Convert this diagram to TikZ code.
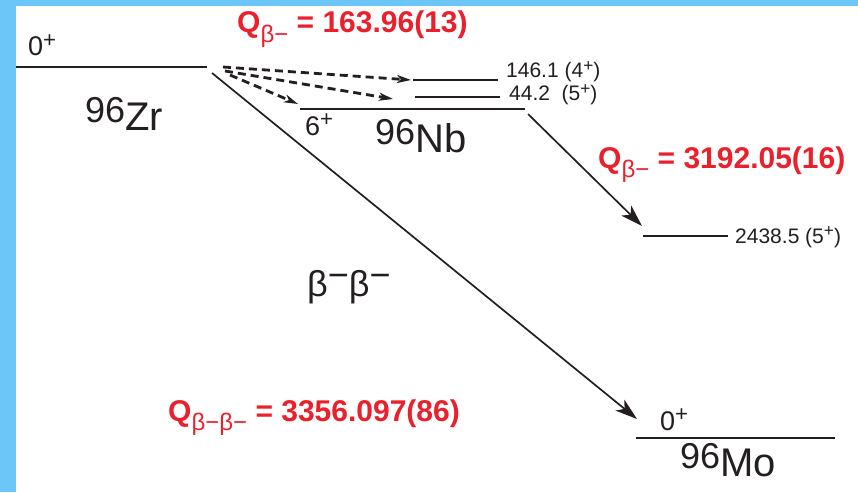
\documentclass[tikz,border=0pt]{standalone}
\usepackage{fontspec}
\setmainfont{Liberation Sans}
\usetikzlibrary{arrows.meta}
\definecolor{qred}{RGB}{234,32,44}
\definecolor{frameblue}{RGB}{108,198,248}
\definecolor{ink}{RGB}{35,31,32}
% small raised charge sign
\newcommand{\chg}[1]{\raisebox{0.32em}{\scalebox{0.82}{#1}}}
\newcommand{\qsub}[1]{\raisebox{-9.5pt}{\mdseries\fontsize{24}{24}\selectfont #1}}
\newcommand{\nucl}[2]{\raisebox{8pt}{#1}{\fontsize{40}{40}\selectfont #2}}

\begin{document}
\begin{tikzpicture}[x=1pt, y=-1pt, >=Stealth,
    every node/.style={inner sep=0pt, anchor=base west, text=ink},
    level/.style={line width=1.7pt, ink},
    decay/.style={line width=1.7pt, ink, -{Stealth[length=22pt, width=14pt, inset=6pt]}},
    feed/.style={line width=2.8pt, ink, dash pattern=on 8pt off 5pt,
        -{Stealth[length=14pt, width=8pt, inset=4pt]}},
    big/.style={font=\fontsize{36}{36}\selectfont},
    spin/.style={font=\fontsize{27}{27}\selectfont},
    energy/.style={font=\fontsize{21}{21}\selectfont},
    qval/.style={text=qred, font=\fontsize{30}{30}\selectfont\bfseries}]
    % frame
    \fill[frameblue] (0,0) rectangle (858,492);
    \fill[white] (16,6) rectangle (858,492);

    % levels
    \draw[level] (16,67)   coordinate (zrL)  -- (207,67)  coordinate (zrR);
    \draw[level] (300,109) coordinate (nbL)  -- (525,109) coordinate (nbR);
    \draw[level] (413,80)  coordinate (nbaL) -- (498,80)  coordinate (nbaR);
    \draw[level] (415,97)  coordinate (nbbL) -- (500,97)  coordinate (nbbR);
    \draw[level] (643,236) coordinate (moxL) -- (728,236) coordinate (moxR);
    \draw[level] (636,438) coordinate (moL)  -- (835,438) coordinate (moR);

    % level labels
    \node[spin] (zrspin) at (28,56)  {0\chg{+}};
    \node[big]  (zrname) at (85,130) {\nucl{96}{Zr}};
    \node[spin] (nbspin) at (305,135) {6\chg{+}};
    \node[big]  (nbname) at (375,152) {\nucl{96}{Nb}};
    \node[energy] (nbalab) at (506,78)  {146.1 (4\chg{+})};
    \node[energy] (nbblab) at (509,101) {44.2\ \ (5\chg{+})};
    \node[energy] (moxlab) at (735,243) {2438.5 (5\chg{+})};
    \node[spin] (mospin) at (660,430) {0\chg{+}};
    \node[big]  (moname) at (680,476) {\nucl{96}{Mo}};

    % decays
    \coordinate (fa) at (223,67);  \coordinate (fb) at (225,71);
    \coordinate (fc) at (230,75);
    \coordinate (ta) at (411,80);  \coordinate (tb) at (393,99);
    \coordinate (tc) at (298,104);
    \draw[feed] (fa) -- (ta);
    \draw[feed] (fb) -- (tb);
    \draw[feed] (fc) -- (tc);
    \coordinate (dbS) at (212,73); \coordinate (dbE) at (637,419);
    \coordinate (nbS) at (528,114); \coordinate (nbE) at (642,226);
    \draw[decay] (dbS) -- (dbE);
    \draw[decay] (nbS) -- (nbE);
    \node[big] (bblab) at (307,296) {β\raisebox{0.25em}{−}β\raisebox{0.25em}{−}};

    % Q values
    \node[qval] (qnb) at (237,33)  {Q\qsub{β−} = 163.96(13)};
    \node[qval] (qmo) at (598,168) {Q\qsub{β−} = 3192.05(16)};
    \node[qval] (qbb) at (168,421) {Q\qsub{β−β−} = 3356.097(86)};
\end{tikzpicture}
\end{document}
